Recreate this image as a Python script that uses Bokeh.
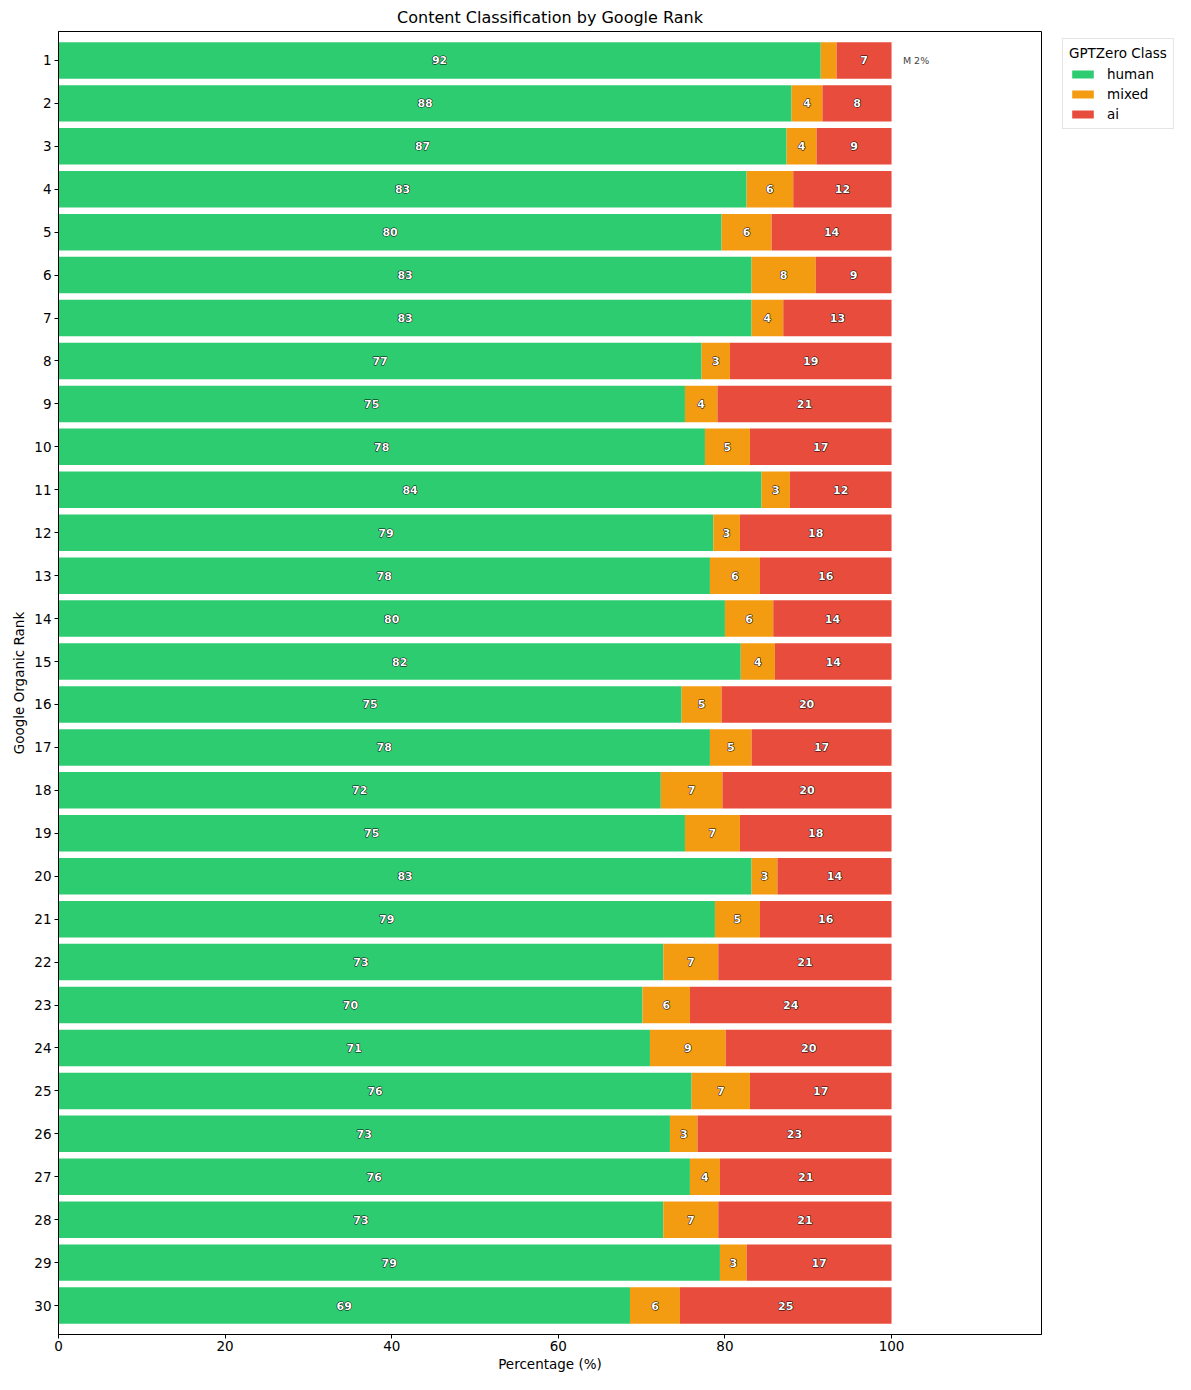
from bokeh.plotting import figure
from bokeh.models import ColumnDataSource, Range1d, FixedTicker, Legend, LegendItem
from bokeh.layouts import row
from bokeh.embed import file_html
from bokeh.resources import INLINE
from bokeh.core.properties import value

ranks = list(range(1, 31))
human = [91.5, 88.0, 87.4, 82.6, 79.6, 83.2, 83.2, 77.2, 75.2, 77.6,
         84.4, 78.6, 78.2, 80.0, 81.9, 74.8, 78.2, 72.3, 75.2, 83.2,
         78.8, 72.6, 70.1, 71.0, 76.0, 73.4, 75.8, 72.6, 79.4, 68.6]
mixed = [1.9, 3.7, 3.6, 5.6, 6.0, 7.7, 3.8, 3.4, 3.9, 5.4,
         3.4, 3.2, 6.0, 5.8, 4.1, 4.8, 5.0, 7.4, 6.6, 3.1,
         5.4, 6.6, 5.7, 9.1, 7.0, 3.3, 3.6, 6.6, 3.2, 6.0]
ai = [6.6, 8.3, 9.0, 11.8, 14.4, 9.1, 13.0, 19.4, 20.9, 17.0,
      12.2, 18.2, 15.8, 14.2, 14.0, 20.4, 16.8, 20.3, 18.2, 13.7,
      15.8, 20.8, 24.2, 19.9, 17.0, 23.3, 20.6, 20.8, 17.4, 25.4]
classes = ["human", "mixed", "ai"]
colors = ["#2ecc71", "#f39c12", "#e74c3c"]

FONT = "DejaVu Sans"
H = 1374

p = figure(width=1042, height=H, output_backend="svg", toolbar_location=None,
           x_range=Range1d(0, 118), y_range=Range1d(30.674, 0.326),
           title="Content Classification by Google Rank",
           min_border_left=58, min_border_right=1, min_border_top=31, min_border_bottom=38)

h_end = [h for h in human]
m_end = [h + m for h, m in zip(human, mixed)]
a_end = [h + m + a for h, m, a in zip(human, mixed, ai)]
src = ColumnDataSource(dict(y=ranks, h0=[0] * 30, h1=h_end, m1=m_end, a1=a_end))

p.hbar(y="y", left="h0", right="h1", height=0.85, source=src, fill_color=colors[0], line_color=None)
p.hbar(y="y", left="h1", right="m1", height=0.85, source=src, fill_color=colors[1], line_color=None)
p.hbar(y="y", left="m1", right="a1", height=0.85, source=src, fill_color=colors[2], line_color=None)

# segment labels
lx, ly, lt = [], [], []
ox, oy, ot = [], [], []
for i, r in enumerate(ranks):
    segs = [(0, human[i]), (human[i], human[i] + mixed[i]), (human[i] + mixed[i], human[i] + mixed[i] + ai[i])]
    vals = [human[i], mixed[i], ai[i]]
    for k, ((a, b), v) in enumerate(zip(segs, vals)):
        if v >= 2.5:
            lx.append((a + b) / 2)
            ly.append(r)
            lt.append(f"{v:.0f}")
        elif k == 1:
            ox.append(101.0)
            oy.append(r)
            ot.append(f"M {v:.0f}%")

lab_src = ColumnDataSource(dict(x=lx, y=ly, t=lt))
# dark stroke underneath, white fill on top (like a stroke path effect)
p.text(x="x", y="y", text="t", source=lab_src, text_align="center", text_baseline="middle",
       text_color="black", text_outline_color="black", text_font=value(FONT),
       text_font_style="bold", text_font_size="11px")
p.text(x="x", y="y", text="t", source=lab_src, text_align="center", text_baseline="middle",
       text_color="white", text_font=value(FONT),
       text_font_style="bold", text_font_size="11px")
p.text(x=ox, y=oy, text=ot, text_align="left", text_baseline="middle", x_offset=3,
       text_color="#444444", text_font=value(FONT), text_font_size="9.5px")

p.title.align = "center"
p.title.text_font = FONT
p.title.text_font_size = "16px"
p.title.text_font_style = "normal"
p.title.text_color = "black"

p.xgrid.visible = False
p.ygrid.visible = False
p.outline_line_color = "black"
p.outline_line_width = 1
p.outline_line_alpha = 1

p.xaxis.ticker = FixedTicker(ticks=[0, 20, 40, 60, 80, 100])
p.yaxis.ticker = FixedTicker(ticks=ranks)
for ax in (p.xaxis, p.yaxis):
    ax.major_tick_in = 0
    ax.major_tick_out = 4
    ax.minor_tick_in = 0
    ax.minor_tick_out = 0
    ax.major_label_text_font = FONT
    ax.major_label_text_font_size = "13.5px"
    ax.major_label_text_color = "black"
    ax.axis_label_text_font = FONT
    ax.axis_label_text_font_size = "13.5px"
    ax.axis_label_text_font_style = "normal"
    ax.axis_label_text_color = "black"
    ax.axis_line_color = "black"
    ax.major_tick_line_color = "black"
    ax.major_label_standoff = 3
    ax.axis_label_standoff = 4
p.xaxis.axis_label_standoff = 2
p.xaxis.major_label_standoff = 2
p.xaxis.axis_label = "Percentage (%)"
p.yaxis.axis_label = "Google Organic Rank"

# legend panel to the right of the plot frame
q = figure(width=133, height=H, output_backend="svg", toolbar_location=None,
           x_axis_type=None, y_axis_type=None,
           min_border_left=13, min_border_top=31, min_border_right=0, min_border_bottom=38,
           x_range=Range1d(0, 1), y_range=Range1d(0, 1))
q.outline_line_color = None
q.xgrid.visible = False
q.ygrid.visible = False
# legend swatches come from renderers whose single bar lies outside the visible range
leg_r = [q.hbar(y=[5], left=[5], right=[6], height=0.5, fill_color=c, line_color=None) for c in colors]

legend = Legend(items=[LegendItem(label=c, renderers=[r]) for c, r in zip(classes, leg_r)],
                location="top_left", title="GPTZero Class")
legend.margin = 7
legend.title_text_font = FONT
legend.title_text_font_size = "13.5px"
legend.title_text_font_style = "normal"
legend.title_text_color = "black"
legend.label_text_font = FONT
legend.label_text_font_size = "13.5px"
legend.label_text_color = "black"
legend.glyph_width = 27
legend.glyph_height = 10
legend.label_standoff = 11
legend.spacing = 4
legend.padding = 6
legend.border_line_color = "#cccccc"
legend.border_line_width = 1
legend.background_fill_alpha = 1
q.add_layout(legend, "center")

layout = row(p, q)
open("out.html", "w").write(file_html(layout, INLINE))
